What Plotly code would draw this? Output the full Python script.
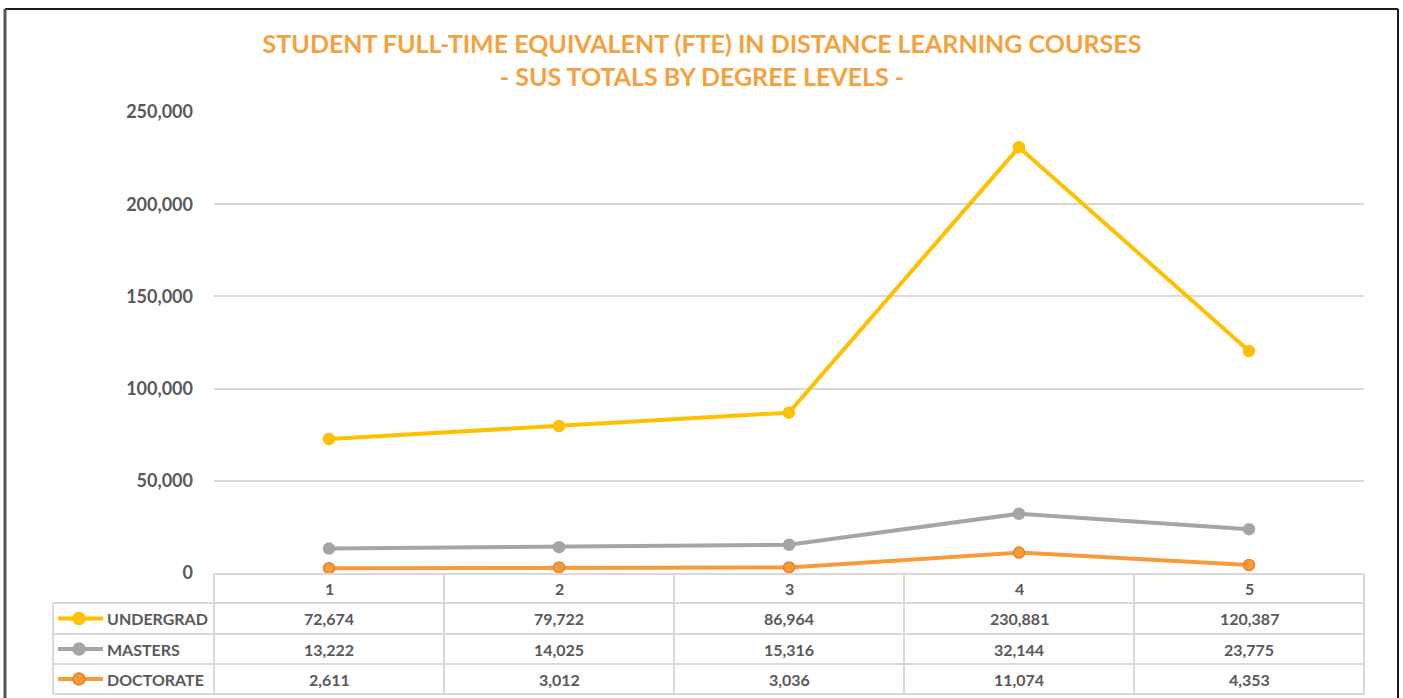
import plotly.graph_objects as go

W, H = 1403, 698

categories = [1, 2, 3, 4, 5]
series_names = ["UNDERGRAD", "MASTERS", "DOCTORATE"]
undergrad = [72674, 79722, 86964, 230881, 120387]
masters = [13222, 14025, 15316, 32144, 23775]
doctorate = [2611, 3012, 3036, 11074, 4353]
y_ticks = [0, 50000, 100000, 150000, 200000, 250000]
y_tick_labels = ["0", "50,000", "100,000", "150,000", "200,000", "250,000"]

series_values = [undergrad, masters, doctorate]
line_colors = ["#FFC000", "#A5A5A5", "#F79B3A"]
marker_lines = ["#FFC000", "#A5A5A5", "#E8822A"]

TXT = "#595959"
GRID = "#D9D9D9"
FONT = "Lato, Open Sans, sans-serif"

def px(x):
    return x / W

def py(y):
    return 1 - y / H

plot_l, plot_r, plot_t, plot_b = 214, 1364, 112, 573

fig = go.Figure()
for name, vals, lc, mc in zip(series_names, series_values, line_colors, marker_lines):
    fig.add_trace(go.Scatter(
        x=categories, y=vals, name=name, mode="lines+markers",
        line=dict(color=lc, width=4),
        marker=dict(size=11, color=lc, line=dict(color=mc, width=1.5)),
        showlegend=False, cliponaxis=False, hoverinfo="skip",
    ))

shapes = []
annotations = []

col_edges = [214, 444, 674, 904, 1134, 1364]
row_edges = [574, 603, 634, 664, 694]
legend_left = 53

shapes.append(dict(type="line", xref="paper", yref="paper", x0=px(214), x1=px(1364),
                   y0=py(574), y1=py(574), line=dict(color=GRID, width=2)))
for ry in row_edges[1:]:
    shapes.append(dict(type="line", xref="paper", yref="paper", x0=px(legend_left), x1=px(1364),
                       y0=py(ry), y1=py(ry), line=dict(color=GRID, width=2)))
for cx in col_edges:
    shapes.append(dict(type="line", xref="paper", yref="paper", x0=px(cx), x1=px(cx),
                       y0=py(574), y1=py(694), line=dict(color=GRID, width=2)))
shapes.append(dict(type="line", xref="paper", yref="paper", x0=px(legend_left), x1=px(legend_left),
                   y0=py(603), y1=py(694), line=dict(color=GRID, width=2)))

for c in categories:
    annotations.append(dict(x=c, y=py(588.5), xref="x", yref="paper", text=f"<b>{c}</b>",
                            xanchor="center", yanchor="middle",
                            showarrow=False, font=dict(family=FONT, size=16, color=TXT)))

for i, (name, vals, lc, mc) in enumerate(zip(series_names, series_values, line_colors, marker_lines)):
    yc = (row_edges[i + 1] + row_edges[i + 2]) / 2
    for c, v in zip(categories, vals):
        annotations.append(dict(x=c, y=py(yc), xref="x", yref="paper", text=f"<b>{v:,}</b>",
                                xanchor="center", yanchor="middle",
                                showarrow=False, font=dict(family=FONT, size=16, color=TXT)))
    annotations.append(dict(x=px(105), y=py(yc), xref="paper", yref="paper", text=f"<b>{name}</b>",
                            xanchor="left", yanchor="middle", showarrow=False,
                            font=dict(family=FONT, size=16, color=TXT)))
    shapes.append(dict(type="line", xref="paper", yref="paper", x0=px(58), x1=px(103),
                       y0=py(yc), y1=py(yc), line=dict(color=lc, width=4)))
    shapes.append(dict(type="circle", xref="paper", yref="paper", xsizemode="pixel", ysizemode="pixel",
                       xanchor=px(79), yanchor=py(yc), x0=-6, x1=6, y0=-6, y1=6,
                       fillcolor=lc, line=dict(color=mc, width=1.5)))

shapes.append(dict(type="line", xref="paper", yref="paper", x0=px(5), x1=px(1398), y0=py(9), y1=py(9),
                   line=dict(color="#1a1a1a", width=2)))
shapes.append(dict(type="line", xref="paper", yref="paper", x0=px(5), x1=px(5), y0=py(9), y1=py(698),
                   line=dict(color="#555555", width=3)))
shapes.append(dict(type="line", xref="paper", yref="paper", x0=px(1398), x1=px(1398), y0=py(9), y1=py(698),
                   line=dict(color="#1a1a1a", width=2)))

fig.update_layout(
    width=W, height=H, autosize=False,
    margin=dict(l=0, r=0, t=0, b=0, pad=0),
    paper_bgcolor="white", plot_bgcolor="white",
    title=dict(
        text="<b>STUDENT FULL-TIME EQUIVALENT (FTE) IN DISTANCE LEARNING COURSES<br>- SUS TOTALS BY DEGREE LEVELS -</b>",
        x=px(702), xanchor="center", y=py(53), yanchor="middle",
        font=dict(family=FONT, size=25, color="#F5A13D"),
    ),
    xaxis=dict(domain=[px(plot_l), px(plot_r)], range=[0.5, 5.5], showgrid=False, automargin=False,
               showticklabels=False, zeroline=False, showline=False, fixedrange=True),
    yaxis=dict(domain=[py(plot_b), py(plot_t)], range=[0, 250000], tickvals=y_ticks, automargin=False,
               ticktext=[f"<b>{t}</b>" for t in y_tick_labels], showgrid=True, gridcolor=GRID,
               gridwidth=1.5, zeroline=False, showline=False, ticklabelstandoff=20,
               tickfont=dict(family=FONT, size=18, color=TXT)),
    shapes=shapes,
    annotations=annotations,
    font=dict(family=FONT),
)

fig.write_html("out.html", config={"displayModeBar": False},
               post_script="document.body.style.margin='0';document.body.style.overflow='hidden';")
